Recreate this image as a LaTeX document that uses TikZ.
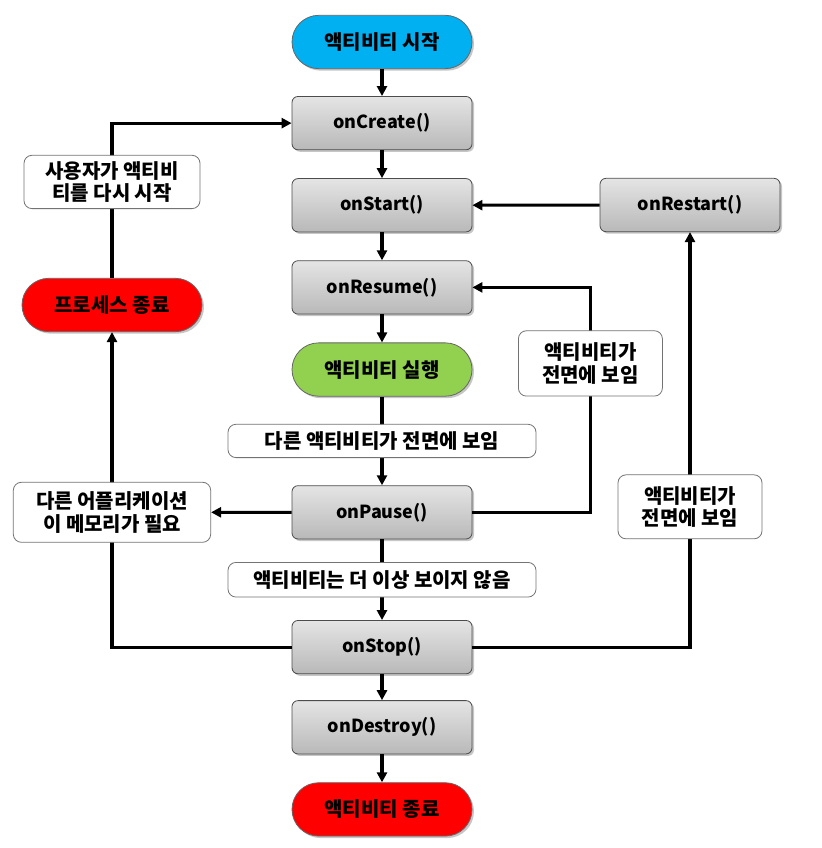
\documentclass[tikz,border=0pt]{standalone}
\usepackage{fontspec}
\setmainfont{Noto Sans CJK KR}
\usepackage{xcolor}
\usepackage{tikz}
\usetikzlibrary{positioning,arrows.meta,shadows}
\definecolor{startblue}{RGB}{0,176,240}
\definecolor{rungreen}{RGB}{146,208,80}
\definecolor{endred}{RGB}{255,0,0}
\definecolor{boxgray}{RGB}{217,217,217}

\begin{document}
\begin{tikzpicture}[x=0.75pt, y=0.75pt,
		fn/.style={draw=black!70, line width=0.6pt, rounded corners=4.5pt, minimum width=135pt,
				   minimum height=40pt, align=center, font=\fontsize{13.5}{16.5}\selectfont\bfseries,
				   top color=boxgray!70!white, bottom color=boxgray!85!black,
				   drop shadow={shadow xshift=1.5pt, shadow yshift=-1.5pt, opacity=0.45}},
		pill/.style={fn, rounded corners=20pt, draw=black!60, font=\fontsize{15}{17}\selectfont\bfseries},
		lbl/.style={draw=black!55, line width=0.6pt, fill=white, rounded corners=6pt, align=center,
					font=\fontsize{15}{17}\selectfont\bfseries, inner sep=4pt},
		arrow/.style={-{Triangle[length=7.5pt,width=7.5pt]}, line width=2.3pt},
	]
		\useasboundingbox (0,0) rectangle (821,-848);

		% main column
		\node[pill, top color=startblue, bottom color=startblue] (start) at (382,-42) {액티비티 시작};
		\node[fn, below=20.25pt of start] (create) {onCreate()};
		\node[fn, below=21pt of create] (onstart) {onStart()};
		\node[fn, below=21pt of onstart] (resume) {onResume()};
		\node[pill, top color=rungreen, bottom color=rungreen, below=21pt of resume] (run) {액티비티 실행};
		\node[fn, below=66.5pt of run] (pause) {onPause()};
		\node[fn, below=60.5pt of pause] (stop) {onStop()};
		\node[fn, below=19.5pt of stop] (destroy) {onDestroy()};
		\node[pill, top color=endred, bottom color=endred, below=21pt of destroy] (finish) {액티비티 종료};

		% side nodes
		\node[fn] (restart) at (690,-205) {onRestart()};
		\node[pill, top color=endred, bottom color=endred] (kill) at (112,-305) {프로세스 종료};

		\draw[arrow] (start) -- (create);
		\draw[arrow] (create) -- (onstart);
		\draw[arrow] (onstart) -- (resume);
		\draw[arrow] (resume) -- (run);
		\draw[arrow] (run) -- node[lbl, minimum width=231pt, minimum height=25pt] (tofront) {다른 액티비티가 전면에 보임} (pause);
		\draw[arrow] (pause) -- node[lbl, minimum width=231pt, minimum height=26pt] (hidden) {액티비티는 더 이상 보이지 않음} (stop);
		\draw[arrow] (stop) -- (destroy);
		\draw[arrow] (destroy) -- (finish);

		% loops
		\draw[arrow] (restart) -- (onstart);
		\draw[arrow] (kill.north) |- node[pos=0.31, lbl, minimum width=132pt, minimum height=40pt] (userback) {사용자가 액티비\\티를 다시 시작} (create.west);
		\draw[arrow] (stop.west) -| node[pos=0.714, lbl, minimum width=148pt, minimum height=45pt] (needmem) {다른 어플리케이션\\이 메모리가 필요} (kill.south);
		\draw[arrow] (pause) -- (needmem);
		\draw[arrow] (pause.east) -- ++(118,0) |- node[pos=0.331, lbl, minimum width=108pt, minimum height=49pt] (back1) {액티비티가\\전면에 보임} (resume.east);
		\draw[arrow] (stop.east) -| node[pos=0.669, lbl, minimum width=108pt, minimum height=48pt] (back2) {액티비티가\\전면에 보임} (restart.south);
	\end{tikzpicture}
\end{document}
